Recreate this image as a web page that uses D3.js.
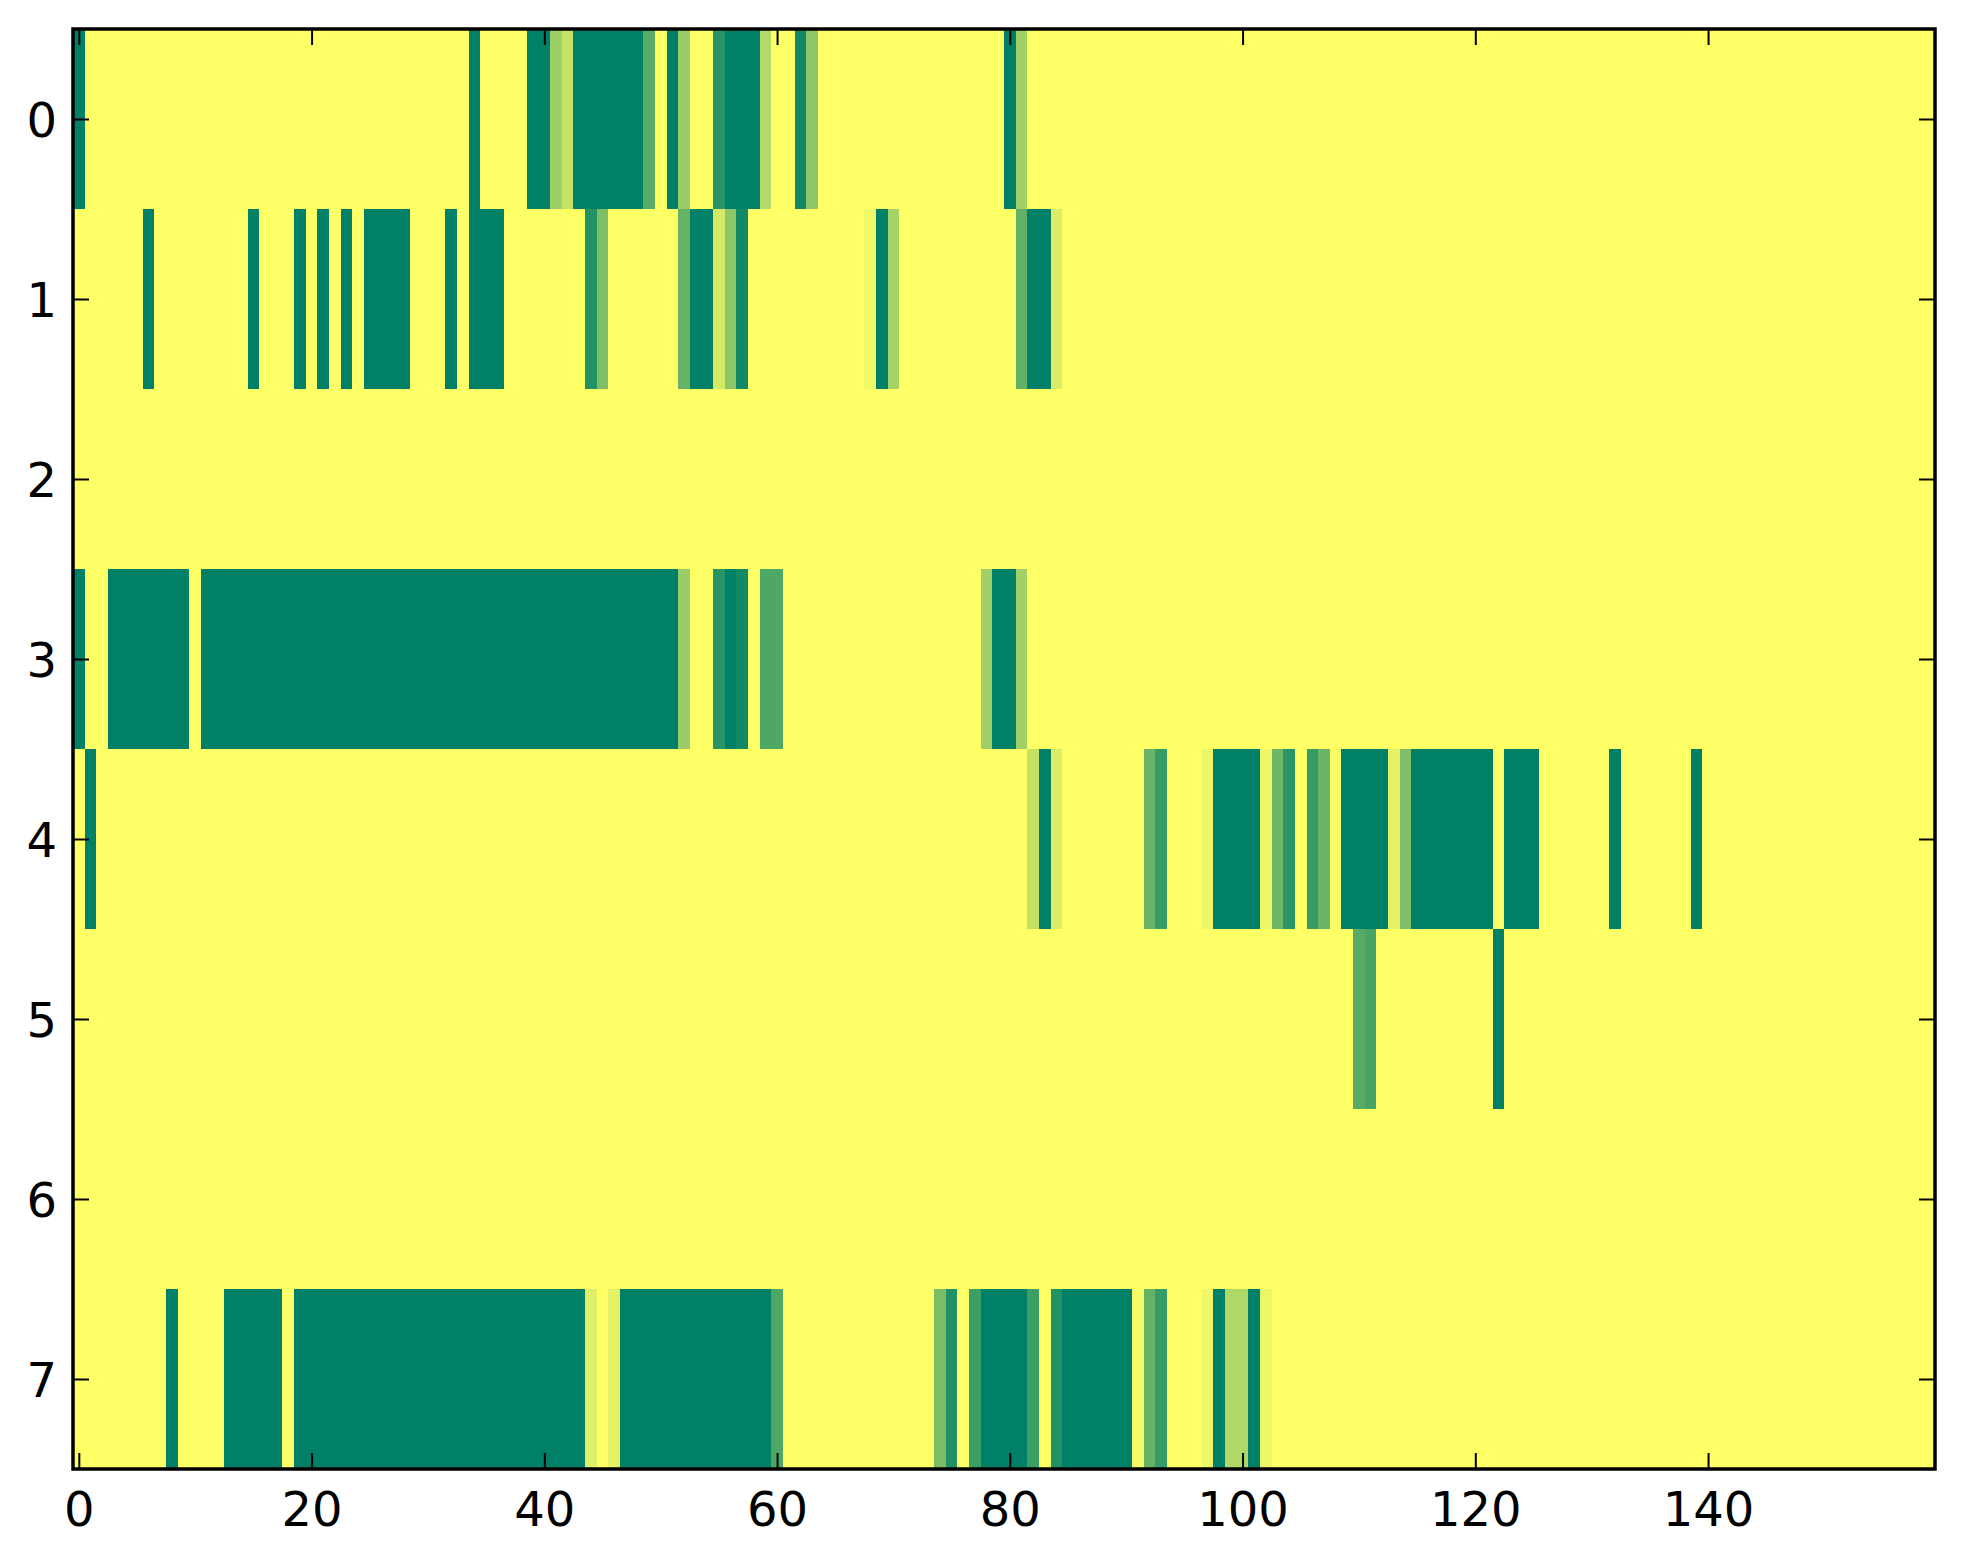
<!DOCTYPE html>
<html>
<head>
<meta charset="utf-8">
<script src="https://cdn.jsdelivr.net/npm/d3@7"></script>
<style>
  html, body { margin: 0; padding: 0; background: #ffffff; }
  svg { display: block; }
  text { font-family: "DejaVu Sans", sans-serif; }
</style>
</head>
<body>
<svg id="chart" width="1963" height="1564"></svg>
<script>
// ---- data (value 0 = yellow, 1 = dark green; summer_r colour map) ----
const rowLabels = [0, 1, 2, 3, 4, 5, 6, 7];
const xTickValues = [0, 20, 40, 60, 80, 100, 120, 140];
const yTickValues = [0, 1, 2, 3, 4, 5, 6, 7];

const row0 = [
  1,0,0,0,0,0,0,0,0,0, 0,0,0,0,0,0,0,0,0,0,
  0,0,0,0,0,0,0,0,0,0, 0,0,0,0,1,0,0,0,0,1,
  1,.38,.23,1,1,1,1,1,1,.66, 0,1,.40,0,0,.84,1,1,1,.30,
  0,0,.93,.45,0,0,0,0,0,0, 0,0,0,0,0,0,0,0,0,0,
  1,.37,0,0,0,0,0,0,0,0, 0,0,0,0,0,0,0,0,0,0,
  0,0,0,0,0,0,0,0,0,0, 0,0,0,0,0,0,0,0,0,0,
  0,0,0,0,0,0,0,0,0,0, 0,0,0,0,0,0,0,0,0,0,
  0,0,0,0,0,0,0,0,0,0, 0,0,0,0,0,0,0,0,0,0
];
const row1 = [
  0,0,0,0,0,0,1,0,0,0, 0,0,0,0,0,1,0,0,0,1,
  0,1,0,1,0,1,1,1,1,0, 0,0,1,0,1,1,1,0,0,0,
  0,0,0,0,.87,.51,0,0,0,0, 0,0,.60,1,1,.17,.45,.93,0,0,
  0,0,0,0,0,0,0,0,.05,1, .35,0,0,0,0,0,0,0,0,0,
  0,.62,1,1,.14,0,0,0,0,0, 0,0,0,0,0,0,0,0,0,0,
  0,0,0,0,0,0,0,0,0,0, 0,0,0,0,0,0,0,0,0,0,
  0,0,0,0,0,0,0,0,0,0, 0,0,0,0,0,0,0,0,0,0,
  0,0,0,0,0,0,0,0,0,0, 0,0,0,0,0,0,0,0,0,0
];
const row2 = [
  0,0,0,0,0,0,0,0,0,0, 0,0,0,0,0,0,0,0,0,0,
  0,0,0,0,0,0,0,0,0,0, 0,0,0,0,0,0,0,0,0,0,
  0,0,0,0,0,0,0,0,0,0, 0,0,0,0,0,0,0,0,0,0,
  0,0,0,0,0,0,0,0,0,0, 0,0,0,0,0,0,0,0,0,0,
  0,0,0,0,0,0,0,0,0,0, 0,0,0,0,0,0,0,0,0,0,
  0,0,0,0,0,0,0,0,0,0, 0,0,0,0,0,0,0,0,0,0,
  0,0,0,0,0,0,0,0,0,0, 0,0,0,0,0,0,0,0,0,0,
  0,0,0,0,0,0,0,0,0,0, 0,0,0,0,0,0,0,0,0,0
];
const row3 = [
  1,0,0,1,1,1,1,1,1,1, 0,1,1,1,1,1,1,1,1,1,
  1,1,1,1,1,1,1,1,1,1, 1,1,1,1,1,1,1,1,1,1,
  1,1,1,1,1,1,1,1,1,1, 1,1,.40,0,0,.84,1,.93,0,.69,
  .69,0,0,0,0,0,0,0,0,0, 0,0,0,0,0,0,0,0,.37,1,
  1,.37,0,0,0,0,0,0,0,0, 0,0,0,0,0,0,0,0,0,0,
  0,0,0,0,0,0,0,0,0,0, 0,0,0,0,0,0,0,0,0,0,
  0,0,0,0,0,0,0,0,0,0, 0,0,0,0,0,0,0,0,0,0,
  0,0,0,0,0,0,0,0,0,0, 0,0,0,0,0,0,0,0,0,0
];
const row4 = [
  0,1,0,0,0,0,0,0,0,0, 0,0,0,0,0,0,0,0,0,0,
  0,0,0,0,0,0,0,0,0,0, 0,0,0,0,0,0,0,0,0,0,
  0,0,0,0,0,0,0,0,0,0, 0,0,0,0,0,0,0,0,0,0,
  0,0,0,0,0,0,0,0,0,0, 0,0,0,0,0,0,0,0,0,0,
  0,0,.23,1,.14,0,0,0,0,0, 0,0,.59,.79,0,0,0,.07,1,1,
  1,1,.06,.57,.83,0,.79,.58,.02,1, 1,1,1,.10,.51,1,1,1,1,1,
  1,1,0,1,1,1,0,0,0,0, 0,0,1,0,0,0,0,0,0,1,
  0,0,0,0,0,0,0,0,0,0, 0,0,0,0,0,0,0,0,0,0
];
const row5 = [
  0,0,0,0,0,0,0,0,0,0, 0,0,0,0,0,0,0,0,0,0,
  0,0,0,0,0,0,0,0,0,0, 0,0,0,0,0,0,0,0,0,0,
  0,0,0,0,0,0,0,0,0,0, 0,0,0,0,0,0,0,0,0,0,
  0,0,0,0,0,0,0,0,0,0, 0,0,0,0,0,0,0,0,0,0,
  0,0,0,0,0,0,0,0,0,0, 0,0,0,0,0,0,0,0,0,0,
  0,0,0,0,0,0,0,0,0,0, .66,.72,0,0,0,0,0,0,0,0,
  0,0,1,0,0,0,0,0,0,0, 0,0,0,0,0,0,0,0,0,0,
  0,0,0,0,0,0,0,0,0,0, 0,0,0,0,0,0,0,0,0,0
];
const row6 = [
  0,0,0,0,0,0,0,0,0,0, 0,0,0,0,0,0,0,0,0,0,
  0,0,0,0,0,0,0,0,0,0, 0,0,0,0,0,0,0,0,0,0,
  0,0,0,0,0,0,0,0,0,0, 0,0,0,0,0,0,0,0,0,0,
  0,0,0,0,0,0,0,0,0,0, 0,0,0,0,0,0,0,0,0,0,
  0,0,0,0,0,0,0,0,0,0, 0,0,0,0,0,0,0,0,0,0,
  0,0,0,0,0,0,0,0,0,0, 0,0,0,0,0,0,0,0,0,0,
  0,0,0,0,0,0,0,0,0,0, 0,0,0,0,0,0,0,0,0,0,
  0,0,0,0,0,0,0,0,0,0, 0,0,0,0,0,0,0,0,0,0
];
const row7 = [
  0,0,0,0,0,0,0,0,1,0, 0,0,0,1,1,1,1,1,0,1,
  1,1,1,1,1,1,1,1,1,1, 1,1,1,1,1,1,1,1,1,1,
  1,1,1,1,.13,0,.10,1,1,1, 1,1,1,1,1,1,1,1,1,1,
  .69,0,0,0,0,0,0,0,0,0, 0,0,0,0,.52,.87,0,.76,1,1,
  1,1,.76,0,.87,1,1,1,1,1, 1,.03,.60,.79,0,0,0,.06,1,.31,
  .31,1,.07,0,0,0,0,0,0,0, 0,0,0,0,0,0,0,0,0,0,
  0,0,0,0,0,0,0,0,0,0, 0,0,0,0,0,0,0,0,0,0,
  0,0,0,0,0,0,0,0,0,0, 0,0,0,0,0,0,0,0,0,0
];
const rows = [row0, row1, row2, row3, row4, row5, row6, row7];

// ---- layout ----
const plotLeft = 73, plotRight = 1935, plotTop = 29, plotBottom = 1469;
const nCols = row0.length;

const svg = d3.select("#chart");
const xs = d3.scaleLinear().domain([-0.5, nCols - 0.5]).range([plotLeft, plotRight]);
const ys = d3.scaleLinear().domain([-0.5, rowLabels.length - 0.5]).range([plotTop, plotBottom]);

// summer_r: 0 -> (1,1,0.4), 1 -> (0,0.5,0.4)
const color = d3.scaleLinear().domain([0, 1])
  .range(["rgb(255,255,102)", "rgb(0,128,102)"])
  .interpolate(d3.interpolateRgb);

const cells = [];
rows.forEach((r, ri) => r.forEach((v, ci) => cells.push({ r: rowLabels[ri], c: ci, v })));

svg.append("g").attr("shape-rendering", "crispEdges")
  .selectAll("rect").data(cells).join("rect")
  .attr("x", d => xs(d.c - 0.5))
  .attr("y", d => ys(d.r - 0.5))
  .attr("width", d => xs(d.c + 0.5) - xs(d.c - 0.5) + 0.5)
  .attr("height", d => ys(d.r + 0.5) - ys(d.r - 0.5) + 0.5)
  .attr("fill", d => color(d.v));

const tickLen = 16;
function styleAxis(g) {
  g.select(".domain").remove();
  g.selectAll(".tick line").attr("stroke", "#000").attr("stroke-width", 2);
  g.selectAll("text").attr("fill", "#000").style("font-size", "48px")
    .style("font-family", '"DejaVu Sans", sans-serif');
}

// bottom axis (labels)
const gx = svg.append("g").attr("transform", `translate(0,${plotBottom})`)
  .call(d3.axisBottom(xs).tickValues(xTickValues).tickSize(-tickLen).tickPadding(0));
styleAxis(gx);
gx.selectAll("text").attr("y", 57).attr("dy", null);

// top axis (ticks only)
const gxt = svg.append("g").attr("transform", `translate(0,${plotTop})`)
  .call(d3.axisTop(xs).tickValues(xTickValues).tickSize(-tickLen).tickFormat(""));
styleAxis(gxt);

// left axis (labels)
const gy = svg.append("g").attr("transform", `translate(${plotLeft},0)`)
  .call(d3.axisLeft(ys).tickValues(yTickValues).tickSize(-tickLen).tickPadding(0));
styleAxis(gy);
gy.selectAll("text").attr("x", -16).attr("y", 17).attr("dy", null);

// right axis (ticks only)
const gyr = svg.append("g").attr("transform", `translate(${plotRight},0)`)
  .call(d3.axisRight(ys).tickValues(yTickValues).tickSize(-tickLen).tickFormat(""));
styleAxis(gyr);

// frame (spines)
svg.append("rect")
  .attr("x", plotLeft).attr("y", plotTop)
  .attr("width", plotRight - plotLeft).attr("height", plotBottom - plotTop)
  .attr("fill", "none").attr("stroke", "#000").attr("stroke-width", 3.5);
</script>
</body>
</html>
